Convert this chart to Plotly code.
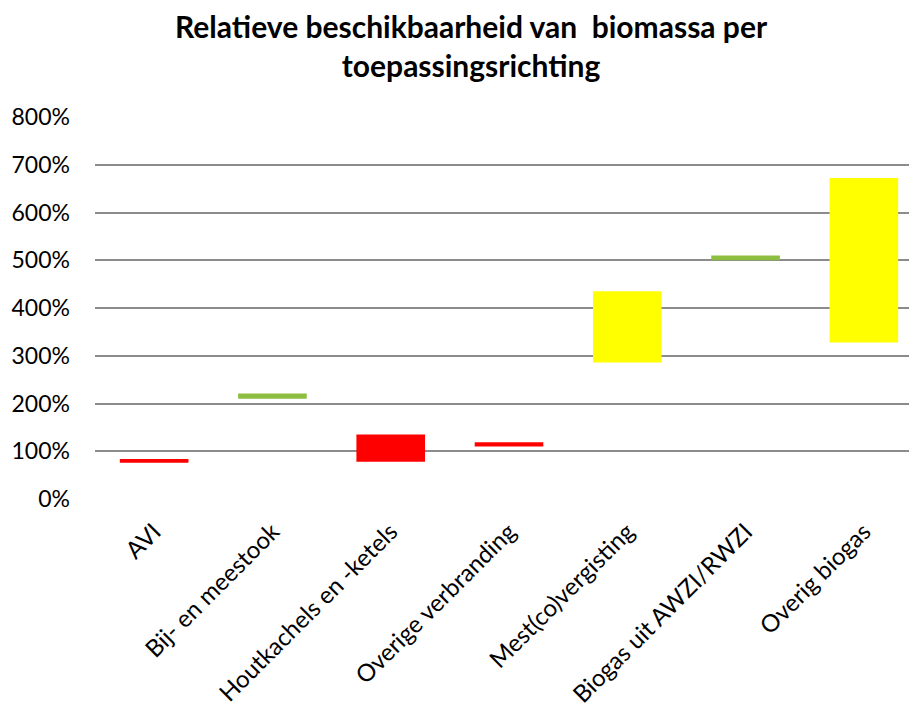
import plotly.graph_objects as go

categories = ["AVI", "Bij- en meestook", "Houtkachels en -ketels", "Overige verbranding",
              "Mest(co)vergisting", "Biogas uit AWZI/RWZI", "Overig biogas"]
low_values = [0.76, 2.10, 0.78, 1.10, 2.86, 5.00, 3.28]
high_values = [0.84, 2.21, 1.35, 1.19, 4.35, 5.10, 6.72]
bar_colors = ["#FF0000", "#8DBE3F", "#FF0000", "#FF0000", "#FFFF00", "#8DBE3F", "#FFFF00"]
tick_vals = [0, 1, 2, 3, 4, 5, 6, 7, 8]
tick_text = ["0%", "100%", "200%", "300%", "400%", "500%", "600%", "700%", "800%"]

fig = go.Figure(go.Bar(
    x=categories,
    y=[h - l for h, l in zip(high_values, low_values)],
    base=low_values,
    marker=dict(color=bar_colors, line=dict(width=0)),
    width=0.58,
    hoverinfo="skip",
))

fig.update_layout(
    width=917, height=704,
    paper_bgcolor="white", plot_bgcolor="white",
    margin=dict(l=87, r=2, t=109, b=213),
    font=dict(family="Lato, Open Sans, sans-serif", color="black"),
    title=dict(
        text="<b>Relatieve beschikbaarheid van  biomassa per<br>toepassingsrichting</b>",
        x=0.505, xanchor="center", yref="container", y=0.957, yanchor="middle",
        font=dict(size=30, color="black"),
    ),
    showlegend=False,
)
fig.update_yaxes(
    range=[0, 8], tickvals=tick_vals, ticktext=tick_text,
    showgrid=True, gridcolor="#8C8C8C", gridwidth=1.5,
    zeroline=False, showline=False, ticks="",
    tickfont=dict(size=23, color="black"), ticklabelstandoff=24,
    automargin=False,
)
fig.update_xaxes(
    tickangle=-45, tickfont=dict(size=24, color="black"),
    showline=False, ticks="", showgrid=False,
    automargin=False, ticklabelstandoff=13,
)

fig.write_html("out.html")
